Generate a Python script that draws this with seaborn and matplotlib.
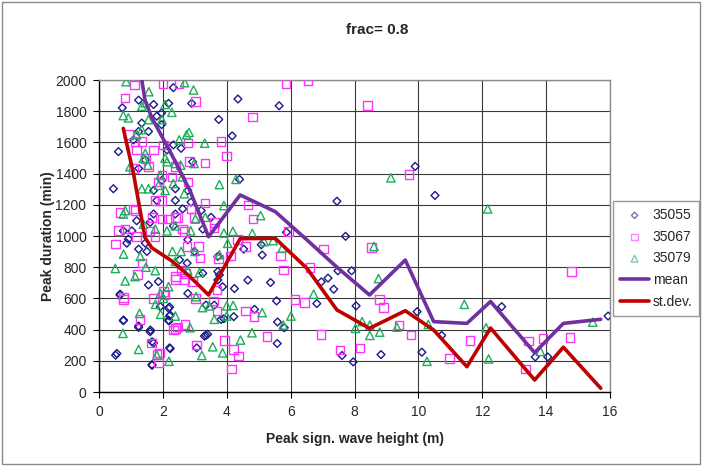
import matplotlib
matplotlib.use("Agg")
import matplotlib.pyplot as plt
import seaborn as sns
import pandas as pd
from matplotlib.patches import Rectangle

# ---------------- data ----------------
s55_x = [9.90, 10.52, 9.96, 10.11, 10.73, 12.61, 8.83, 13.66, 14.05, 15.94,
         4.35, 5.64, 3.75, 4.17, 4.40, 7.45, 7.72, 5.87, 4.53, 5.11, 7.48, 7.91, 7.17, 6.96,
         4.66, 5.37, 7.35, 4.24, 5.56, 6.82, 4.87, 3.91, 4.22, 5.59, 5.80, 5.58, 8.05,
         7.61, 7.96, 3.77, 3.35, 3.40, 3.30, 3.06, 2.21,
         0.73, 1.24, 1.71, 2.18, 2.33, 1.96, 1.81, 1.34, 1.24, 1.55, 1.96, 1.08, 0.61, 2.33,
         2.13, 1.45, 1.24, 1.97, 2.39, 0.45, 1.71, 1.81, 2.39, 1.18, 1.71, 1.60, 1.03, 0.76,
         2.33, 2.39, 0.56, 0.77, 0.66, 1.24, 1.61, 1.66, 1.66, 2.21, 2.21, 2.19,
         0.92, 0.87, 1.24, 1.50, 0.66, 1.55, 1.86, 1.92, 2.18, 2.23, 2.18, 0.76, 1.24, 1.60,
         1.71, 2.23, 0.52, 1.66, 1.45,
         2.90, 2.93, 2.57, 2.78, 2.62, 3.20, 3.51, 3.25, 2.88,
         2.78, 2.99, 3.72, 5.08, 2.52, 2.76, 3.25, 3.72, 3.72, 2.78, 3.87, 3.35, 3.61, 3.82]
s55_y = [1446, 1260, 515, 255, 363, 547, 240, 225, 225, 487,
         1878, 1835, 1747, 1642, 1363, 1223, 998, 1024, 916, 878, 777, 777, 730, 706,
         717, 702, 659, 663, 584, 567, 530, 470, 483, 449, 412, 311, 552,
         234, 193, 750, 363, 370, 358, 283, 283,
         1822, 1871, 1843, 1850, 1951, 1789, 1768, 1724, 1670, 1670, 1714, 1616, 1541, 1584,
         1552, 1487, 1433, 1357, 1303, 1303, 1292, 1228, 1228, 1098, 1141, 1087, 1033, 1033,
         1065, 1141, 247, 461, 627, 423, 397, 176, 322, 545, 487, 455,
         980, 954, 916, 901, 622, 686, 708, 547, 536, 493, 461, 457, 414, 386,
         315, 278, 236, 171, 954,
         1850, 1476, 1562, 1292, 1174, 1163, 1120, 1044, 1217,
         976, 901, 869, 944, 847, 826, 761, 772, 718, 632, 675, 557, 557, 465]

s67_x = [9.70, 14.79, 8.91, 8.79, 9.40, 9.77, 10.97, 11.62, 13.35, 13.45, 13.90, 14.75,
         5.85, 6.54, 8.40, 4.80, 3.82, 4.00, 3.32, 4.66, 4.82, 3.60, 5.93, 4.59, 4.11, 3.75,
         5.69, 5.77, 7.03, 6.61, 8.53, 6.14, 6.43, 4.59, 4.85, 5.26, 6.95, 7.54, 8.17, 3.93,
         4.22, 4.37, 4.14, 3.05, 3.58, 3.69, 3.69, 3.32, 3.61,
         1.12, 2.01, 2.51, 0.82, 3.03, 0.51, 0.61, 0.66, 0.77, 1.29, 1.64, 1.89, 1.82, 1.87,
         2.40, 2.69,
         1.13, 1.34, 1.71, 2.02, 0.92, 1.18, 1.08, 1.55, 2.39, 1.97, 1.45, 1.76, 1.97, 1.08,
         1.13, 0.82, 1.66, 1.97, 2.18, 1.60, 2.39, 1.86, 2.28,
         1.18, 1.34, 1.21, 0.76, 1.71, 2.02, 2.07, 2.39, 2.39, 2.33, 1.76,
         2.78, 2.83, 2.78, 2.88, 2.46, 2.62, 2.99,
         2.67, 4.34, 2.75, 3.11, 3.16, 2.57, 2.70, 2.67, 2.93, 3.03, 2.46]
s67_y = [1395, 773, 543, 594, 429, 365, 215, 330, 148, 326, 343, 348,
         1979, 1994, 1835, 1764, 1607, 1513, 1468, 1200, 1109, 1050, 1030, 931, 873, 852,
         873, 783, 916, 798, 927, 594, 573, 519, 483, 354, 369, 268, 283, 330,
         273, 230, 148, 300, 584, 655, 519, 1212, 1088,
         1968, 1979, 1979, 1886, 1861, 949, 1034, 1152, 605, 466, 315, 251, 240, 187,
         406, 433,
         1606, 1606, 1552, 1584, 1649, 1552, 1433, 1444, 1444, 1390, 1498, 1228, 1228, 1174,
         1163, 1044, 1119, 1109, 1109, 1033, 1119, 1346, 1379,
         998, 826, 755, 594, 600, 643, 621, 740, 722, 397, 997,
         1595, 1476, 1346, 1174, 1120, 1044, 1120,
         1030, 976, 933, 933, 858, 783, 761, 718, 708, 600, 418]

s79_x = [9.14, 12.17, 11.44, 9.33, 10.31, 10.27, 12.12, 12.20, 13.82, 15.46,
         3.77, 4.29, 3.91, 5.06, 4.80, 4.19, 3.91, 5.17, 5.45, 5.74, 4.03, 8.61, 8.75, 6.72,
         6.01, 5.77, 5.11, 4.79, 4.43, 4.20, 4.00, 8.03, 8.24, 8.48, 8.48, 8.79, 3.87, 3.56,
         3.22, 3.61, 4.00, 3.45, 3.24,
         0.85, 2.68, 2.96, 1.56, 0.77, 0.51, 0.82, 1.27, 0.75, 1.24, 1.77, 1.93, 2.19, 2.85,
         1.45, 1.34, 0.76, 0.92, 1.34, 2.07, 2.28, 1.97, 1.55, 1.18, 1.45, 1.39, 2.07, 2.13,
         2.39, 0.97, 1.53, 1.92, 1.34, 1.55, 1.86, 2.07, 2.33, 0.82, 0.76, 1.39, 1.76, 2.13,
         2.39,
         1.47, 1.13, 1.76, 1.29, 2.18, 1.92, 2.02, 2.39, 1.81, 2.30, 2.39,
         2.82, 2.74, 3.31, 2.51, 2.56, 2.98, 2.61, 2.67, 3.02, 3.33, 2.87,
         2.57, 3.01, 3.77, 3.15, 2.78, 3.04]
s79_y = [1373, 1174, 562, 416, 433, 197, 412, 212, 260, 448,
         1330, 1363, 1195, 1131, 1017, 1030, 1019, 964, 970, 923, 953, 933, 727, 627,
         487, 429, 509, 380, 333, 555, 552, 408, 451, 429, 363, 384, 251, 290,
         234, 466, 487, 552, 541,
         1989, 1983, 1936, 1925, 884, 792, 712, 504, 376, 273, 562, 498, 197, 412,
         1854, 1832, 1772, 1757, 1681, 1843, 1793, 1746, 1746, 1649, 1530, 1498, 1498, 1476,
         1465, 1444, 1454, 1390, 1303, 1303, 1325, 1292, 1336, 1163, 1141, 1076, 1044, 1033,
         1065,
         800, 740, 778, 869, 675, 632, 600, 487, 236, 901, 837,
         1664, 1649, 1595, 1616, 1454, 1465, 1379, 1271, 1109, 1120, 1033,
         901, 901, 880, 766, 779, 611]

bin_x = [0.76, 1.08, 1.44, 1.65, 2.28, 2.85, 3.43, 4.42, 5.52, 6.51, 7.45, 8.47,
         9.59, 10.48, 11.52, 12.26, 13.64, 14.54, 15.71]
mean_y = [2600, 2340, 1870, 1760, 1520, 1290, 995, 1263, 1156, 975, 800, 622,
          846, 451, 440, 580, 252, 440, 466]
std_y = [1690, 1400, 990, 925, 840, 739, 622, 983, 985, 793, 526, 408,
         521, 397, 162, 410, 77, 287, 24]

series_names = ["35055", "35067", "35079"]
x_ticks = list(range(0, 17, 2))
y_ticks = list(range(0, 2001, 200))

# ---------------- style ----------------
sns.set_theme(style="white")
plt.rcParams["font.family"] = ["Liberation Sans", "DejaVu Sans"]
plt.rcParams["font.size"] = 10

fig = plt.figure(figsize=(7.04, 4.68), dpi=100)
ax = fig.add_axes([99 / 704, 1 - 392 / 468, 511 / 704, 312 / 468])

frames = []
for name, xs, ys in [("35055", s55_x, s55_y), ("35067", s67_x, s67_y), ("35079", s79_x, s79_y)]:
    frames.append(pd.DataFrame({"x": xs, "y": ys, "series": name}))
pts = pd.concat(frames, ignore_index=True)
lines = pd.DataFrame({"x": bin_x, "mean": mean_y, "std": std_y})

colors = {"35055": "#1a1a8c", "35067": "#ff33ff", "35079": "#1fae5a"}
markers = {"35055": "D", "35067": "s", "35079": "^"}
sizes = {"35055": 16, "35067": 38, "35079": 36}

for name in series_names:
    d = pts[pts["series"] == name]
    sns.scatterplot(data=d, x="x", y="y", ax=ax, marker=markers[name],
                    s=sizes[name], facecolor="none", edgecolor=colors[name],
                    linewidth=1.0, label=name, zorder=3)

sns.lineplot(data=lines, x="x", y="mean", ax=ax, color="#7030a0", lw=2.6,
             sort=False, label="mean", zorder=4)
sns.lineplot(data=lines, x="x", y="std", ax=ax, color="#c00000", lw=2.6,
             sort=False, label="st.dev.", zorder=4)

ax.set_xlim(0, 16)
ax.set_ylim(0, 2000)
ax.set_xticks(x_ticks)
ax.set_yticks(y_ticks)
ax.grid(True, color="#3a3a3a", lw=0.8)
ax.set_axisbelow(True)
for side in ["top", "right"]:
    ax.spines[side].set_color("#8a8a8a")
    ax.spines[side].set_linewidth(1.0)
for side in ["left", "bottom"]:
    ax.spines[side].set_color("black")
    ax.spines[side].set_linewidth(1.0)
ax.tick_params(axis="both", which="major", direction="out", length=4, width=0.8,
               color="black", labelsize=10, pad=5, bottom=True, left=True)

ax.set_xlabel("Peak sign. wave height (m)", fontsize=10, fontweight="bold", labelpad=10)
ax.set_ylabel("Peak duration (min)", fontsize=10, fontweight="bold", labelpad=0)

fig.text(377 / 704, 1 - 30 / 468, "frac= 0.8", ha="center", va="center",
         fontsize=11, fontweight="bold")

leg = ax.legend(loc="upper left", bbox_to_anchor=(1.006, 0.612), frameon=True,
                fancybox=False, edgecolor="#808080", fontsize=10, borderpad=0.5,
                labelspacing=0.55, handlelength=2.1, handletextpad=0.25,
                borderaxespad=0, markerscale=0.8)
leg.get_frame().set_linewidth(1.0)
for h in leg.legend_handles[:3]:
    h.set_alpha(0.6)

fig.patches.append(Rectangle((2 / 704, 4 / 468), 698 / 704, 462 / 468,
                             transform=fig.transFigure, fill=False,
                             edgecolor="#8a8a8a", lw=1.0))

fig.savefig("out.png", dpi=100, facecolor="white")
